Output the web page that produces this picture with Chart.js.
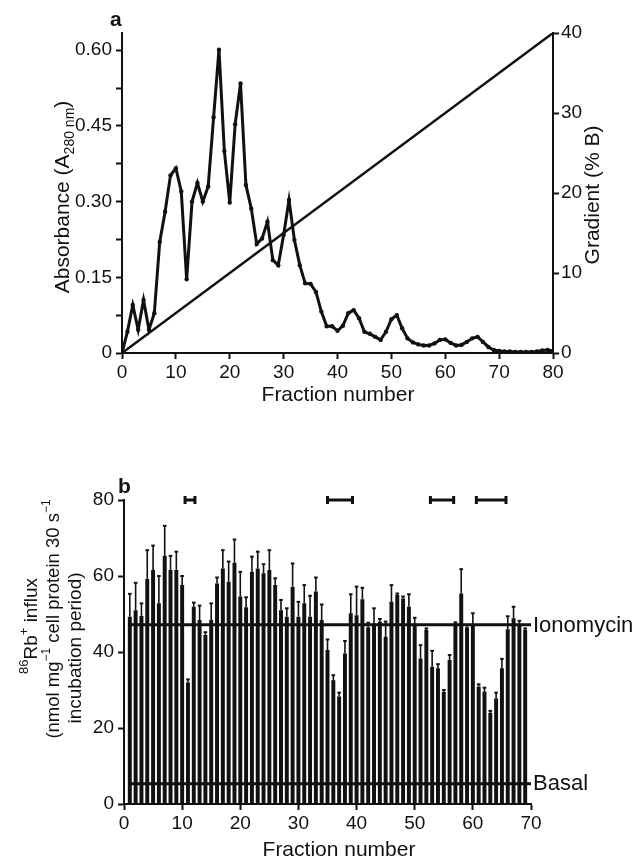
<!DOCTYPE html>
<html>
<head>
<meta charset="utf-8">
<script src="https://cdn.jsdelivr.net/npm/chart.js@4.4.1/dist/chart.umd.min.js"></script>
<style>
  html, body { margin: 0; padding: 0; background: #fff; }
  #wrap { position: relative; width: 637px; height: 860px; }
  canvas { position: absolute; left: 0; }
  #chartA { top: 0; }
  #chartB { top: 420px; }
</style>
</head>
<body>
<div id="wrap">
  <canvas id="chartA" width="637" height="420"></canvas>
  <canvas id="chartB" width="637" height="440"></canvas>
</div>
<script>
// panel a: elution profile
const fractionsA = [0, 1, 2, 3, 4, 5, 6, 7, 8, 9, 10, 11, 12, 13, 14, 15, 16, 17, 18, 19, 20,
  21, 22, 23, 24, 25, 26, 27, 28, 29, 30, 31, 32, 33, 34, 35, 36, 37, 38, 39, 40,
  41, 42, 43, 44, 45, 46, 47, 48, 49, 50, 51, 52, 53, 54, 55, 56, 57, 58, 59, 60,
  61, 62, 63, 64, 65, 66, 67, 68, 69, 70, 71, 72, 73, 74, 75, 76, 77, 78, 79, 80];
const absorbance = [0, 0.042, 0.095, 0.046, 0.105, 0.046, 0.079, 0.22, 0.28, 0.352, 0.366,
  0.32, 0.146, 0.30, 0.337, 0.30, 0.33, 0.467, 0.601, 0.40, 0.298,
  0.453, 0.534, 0.333, 0.286, 0.216, 0.227, 0.26, 0.184, 0.174, 0.234,
  0.303, 0.224, 0.174, 0.138, 0.137, 0.121, 0.082, 0.053, 0.053, 0.044,
  0.054, 0.079, 0.085, 0.069, 0.042, 0.038, 0.032, 0.026, 0.042, 0.067,
  0.075, 0.049, 0.029, 0.021, 0.017, 0.015, 0.015, 0.019, 0.026, 0.027,
  0.02, 0.015, 0.016, 0.022, 0.029, 0.032, 0.022, 0.012, 0.006, 0.004,
  0.003, 0.003, 0.002, 0.002, 0.002, 0.002, 0.003, 0.005, 0.006, 0.004];
const gradientX = [0, 80];
const gradientB = [0, 40];
const absTicks = [0, 0.15, 0.30, 0.45, 0.60];

// panel b: 86Rb+ influx per fraction
const fractionsB = [1, 2, 3, 4, 5, 6, 7, 8, 9, 10, 11, 12, 13, 14, 15, 16, 17, 18, 19, 20,
  21, 22, 23, 24, 25, 26, 27, 28, 29, 30, 31, 32, 33, 34, 35, 36, 37, 38, 39, 40,
  41, 42, 43, 44, 45, 46, 47, 48, 49, 50, 51, 52, 53, 54, 55, 56, 57, 58, 59, 60,
  61, 62, 63, 64, 65, 66, 67, 68, 69];
const influx = [49.3, 51, 49.5, 59.2, 61.6, 52.8, 65.3, 61.6, 61.6, 57.6,
  32, 51.9, 48.4, 44.5, 48.4, 58, 62, 58.5, 63.5, 54.6,
  51.8, 61.1, 62, 60.7, 61.6, 57.6, 51, 49.3, 57.2, 49.3,
  52.8, 49.3, 55.9, 48.4, 40.5, 32.6, 28.3, 39.6, 50.2, 49.7,
  53.9, 46.5, 47.5, 48, 44, 53.2, 55, 54.1, 51.9, 47.5,
  38.3, 45.8, 36.1, 35.7, 29.5, 37.9, 47.1, 55.4, 46.5, 47.1,
  30.9, 29.6, 24, 27.8, 35.7, 46, 48.9, 47.5, 45.8];
const influxErrTop = [55.3, 58.2, 52.8, 66.8, 68, 60, 73.2, 65.3, 66.4, 60,
  32.8, 53, 52.2, 45.2, 52.8, 59.6, 66.8, 63.8, 69.6, 61.1,
  54.4, 65.1, 66.4, 63.1, 66.8, 59.4, 53.7, 51.5, 63.3, 53.2,
  57.6, 54.8, 59.6, 52.5, 43.3, 33.9, 29.3, 42.9, 55.2, 57.2,
  56.9, 47.7, 51.5, 48.7, 48, 57.6, 55.4, 54.6, 55.2, 49,
  41.8, 46.2, 40.3, 36.8, 30, 39.2, 47.8, 61.8, 47.1, 50.2,
  31.5, 30.6, 24.5, 29.3, 38.2, 49.4, 51.9, 48.2, 46.2];
const ionomycinLevel = 47.2;
const basalLevel = 5.3;
const levelSpan = [1, 70];
const bracketRanges = [[10.5, 12.2], [35, 39.3], [52.7, 56.7], [60.6, 65.7]];
const bracketLevel = 80;

const FONT = '"Liberation Sans", Arial, Helvetica, sans-serif';
const INK = '#111';

Chart.defaults.font.family = FONT;
Chart.defaults.color = INK;

// draws a line of text with sub/superscript pieces, centred on (cx, cy)
function drawRich(ctx, segs, cx, cy, rot, size) {
  const small = Math.round(size * 0.66);
  ctx.save();
  ctx.translate(cx, cy);
  ctx.rotate(rot);
  ctx.textBaseline = 'middle';
  ctx.textAlign = 'left';
  ctx.fillStyle = INK;
  let total = 0;
  segs.forEach(s => {
    ctx.font = ((s.sub || s.sup) ? small : size) + 'px ' + FONT;
    s.w = ctx.measureText(s.t).width;
    total += s.w;
  });
  let x = -total / 2;
  segs.forEach(s => {
    ctx.font = ((s.sub || s.sup) ? small : size) + 'px ' + FONT;
    const dy = s.sub ? size * 0.32 : (s.sup ? -size * 0.38 : 0);
    ctx.fillText(s.t, x, dy);
    x += s.w;
  });
  ctx.restore();
}

const axisStyle = {
  grid: { drawOnChartArea: false, drawTicks: true, tickLength: 6, tickWidth: 2, tickColor: INK },
  border: { color: INK, width: 2 },
};

const textA = {
  id: 'textA',
  afterDraw(chart) {
    const ctx = chart.ctx;
    ctx.save();
    ctx.fillStyle = INK;
    ctx.font = 'bold 21px ' + FONT;
    ctx.textBaseline = 'middle';
    ctx.fillText('a', 110, 20);
    ctx.restore();
    drawRich(ctx, [{ t: 'Absorbance (A' }, { t: '280 nm', sub: true }, { t: ')' }], 63, 197, -Math.PI / 2, 21);
    drawRich(ctx, [{ t: 'Gradient (% B)' }], 593, 195, -Math.PI / 2, 21);
    drawRich(ctx, [{ t: 'Fraction number' }], 338, 395, 0, 21);
  }
};

new Chart(document.getElementById('chartA'), {
  type: 'line',
  data: {
    datasets: [
      {
        label: 'Absorbance',
        data: fractionsA.map((f, i) => ({ x: f, y: absorbance[i] })),
        yAxisID: 'y',
        borderColor: INK,
        backgroundColor: INK,
        borderWidth: 3,
        pointRadius: 2.2,
        pointBorderWidth: 0,
        tension: 0,
      },
      {
        label: 'Gradient',
        data: gradientX.map((f, i) => ({ x: f, y: gradientB[i] })),
        yAxisID: 'y2',
        borderColor: INK,
        borderWidth: 2.5,
        pointRadius: 0,
      },
    ],
  },
  options: {
    responsive: false,
    animation: false,
    layout: { padding: { top: 33, left: 0, right: 0, bottom: 0 } },
    plugins: { legend: { display: false }, tooltip: { enabled: false } },
    scales: {
      x: {
        type: 'linear', min: 0, max: 80,
        ticks: { stepSize: 10, font: { size: 19 }, padding: 2, maxRotation: 0 },
        afterFit: (s) => { s.height = 420 - 353; },
        ...axisStyle,
      },
      y: {
        position: 'left', min: 0, max: 0.634,
        ticks: {
          stepSize: 0.075, includeBounds: false, font: { size: 19 }, padding: 4,
          callback: (v) => {
            const hit = absTicks.find(t => Math.abs(t - v) < 1e-6);
            if (hit === undefined) return '';
            return hit === 0 ? '0' : hit.toFixed(2);
          },
        },
        afterFit: (s) => { s.width = 122; },
        ...axisStyle,
      },
      y2: {
        position: 'right', min: 0, max: 40,
        ticks: { stepSize: 10, font: { size: 19 }, padding: 2 },
        afterFit: (s) => { s.width = 637 - 553; },
        ...axisStyle,
      },
    },
  },
  plugins: [textA],
});

const errorBars = {
  id: 'errorBars',
  afterDatasetsDraw(chart) {
    const ctx = chart.ctx;
    const meta = chart.getDatasetMeta(0);
    const ys = chart.scales.y;
    ctx.save();
    ctx.strokeStyle = INK;
    meta.data.forEach((bar, i) => {
      const top = ys.getPixelForValue(influxErrTop[i]);
      ctx.lineWidth = 1.6;
      ctx.beginPath();
      ctx.moveTo(bar.x, bar.y);
      ctx.lineTo(bar.x, top);
      ctx.stroke();
      ctx.lineWidth = 2;
      ctx.beginPath();
      ctx.moveTo(bar.x - 1.8, top);
      ctx.lineTo(bar.x + 1.8, top);
      ctx.stroke();
    });
    ctx.restore();
  }
};

const textB = {
  id: 'textB',
  afterDraw(chart) {
    const ctx = chart.ctx;
    const ys = chart.scales.y;
    const right = chart.chartArea.right;
    ctx.save();
    ctx.fillStyle = INK;
    ctx.font = 'bold 21px ' + FONT;
    ctx.textBaseline = 'middle';
    ctx.fillText('b', 118, 67);
    ctx.font = '22px ' + FONT;
    ctx.fillText('Ionomycin', right + 2, ys.getPixelForValue(ionomycinLevel) + 1);
    ctx.fillText('Basal', right + 2, ys.getPixelForValue(basalLevel));
    ctx.restore();
    drawRich(ctx, [{ t: '86', sup: true }, { t: 'Rb' }, { t: '+', sup: true }, { t: ' influx' }], 32, 206, -Math.PI / 2, 19);
    drawRich(ctx, [{ t: '(nmol mg' }, { t: '\u22121', sup: true }, { t: ' cell protein 30 s' }, { t: '\u22121', sup: true }], 54, 199, -Math.PI / 2, 18.5);
    drawRich(ctx, [{ t: 'incubation period)' }], 76, 228, -Math.PI / 2, 19);
    drawRich(ctx, [{ t: 'Fraction number' }], 339, 430, 0, 21);
  }
};

const levelLine = (level) => ({
  type: 'line',
  data: levelSpan.map(x => ({ x: x, y: level })),
  borderColor: INK,
  borderWidth: 3,
  pointRadius: 0,
  order: 1,
});

const bracketSets = bracketRanges.map(r => ({
  type: 'line',
  data: r.map(x => ({ x: x, y: bracketLevel })),
  borderColor: INK,
  backgroundColor: INK,
  borderWidth: 3,
  pointStyle: 'line',
  rotation: 90,
  pointRadius: 4,
  pointBorderWidth: 3,
  clip: false,
  order: 1,
}));

new Chart(document.getElementById('chartB'), {
  type: 'bar',
  data: {
    datasets: [
      {
        label: 'Influx',
        data: fractionsB.map((f, i) => ({ x: f, y: influx[i] })),
        backgroundColor: INK,
        borderWidth: 0,
        barPercentage: 0.68,
        categoryPercentage: 1,
        order: 2,
      },
      levelLine(ionomycinLevel),
      levelLine(basalLevel),
      ...bracketSets,
    ],
  },
  options: {
    responsive: false,
    animation: false,
    layout: { padding: { top: 80, left: 0, right: 637 - 531, bottom: 0 } },
    plugins: { legend: { display: false }, tooltip: { enabled: false } },
    scales: {
      x: {
        type: 'linear', min: 0, max: 70, offset: false,
        ticks: { stepSize: 10, font: { size: 19 }, padding: 2, maxRotation: 0 },
        afterFit: (s) => { s.height = 440 - 384; },
        ...axisStyle,
        grid: { ...axisStyle.grid, offset: false },
      },
      y: {
        min: 0, max: 80,
        ticks: { stepSize: 20, font: { size: 19 }, padding: 4 },
        afterFit: (s) => { s.width = 124; },
        ...axisStyle,
      },
    },
  },
  plugins: [errorBars, textB],
});
</script>
</body>
</html>
